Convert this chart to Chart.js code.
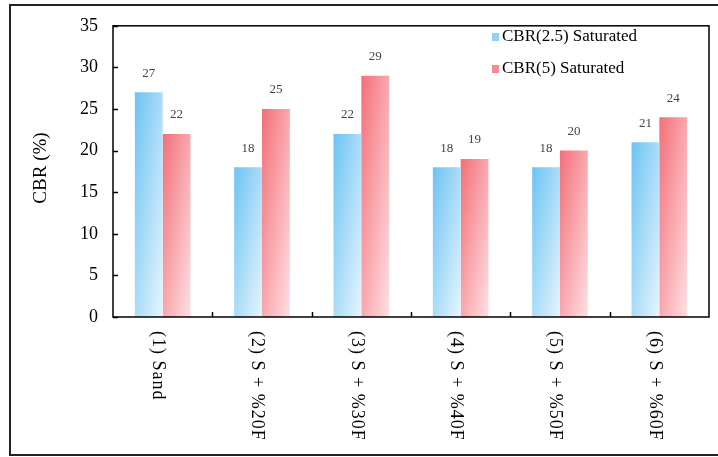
<!DOCTYPE html>
<html lang="en">
<head>
    <meta charset="UTF-8">
    <title>CBR Saturated</title>
    <script src="https://cdn.jsdelivr.net/npm/chart.js"></script>
    <style>
        body { margin: 0; background: #fff; }
        #myChart { display: block; }
    </style>
</head>
<body>
    <canvas id="myChart" width="718" height="457"></canvas>
    <script>
        // data
        const categories = ['(1) Sand', '(2) S + %20F', '(3) S + %30F', '(4) S + %40F', '(5) S + %50F', '(6) S + %60F'];
        const cbr25 = [27, 18, 22, 18, 18, 21];
        const cbr5 = [22, 25, 29, 19, 20, 24];
        const seriesNames = ['CBR(2.5) Saturated', 'CBR(5) Saturated'];
        const yTicks = [0, 5, 10, 15, 20, 25, 30, 35];

        const SERIF = '"Liberation Serif", "Times New Roman", serif';
        const CAT_PCT = 0.56;

        // Excel-like diagonal gradient: dark at top-left, light at bottom-right,
        // half-way at the other two corners
        function barFill(c, dark, light) {
            const chart = c.chart;
            const xs = chart.scales.x, ys = chart.scales.y;
            if (!xs || !ys || c.type !== 'data' || !chart.chartArea) return dark;
            const cx = xs.getPixelForValue(c.dataIndex);
            const w = (xs.width / categories.length) * CAT_PCT / 2;
            const left = c.datasetIndex === 0 ? cx - w : cx;
            const top = ys.getPixelForValue(c.raw);
            const h = Math.max(1, ys.getPixelForValue(0) - top);
            const k = 2 / (1 / (w * w) + 1 / (h * h));
            const g = chart.ctx.createLinearGradient(left, top, left + k / w, top + k / h);
            g.addColorStop(0, dark);
            g.addColorStop(1, light);
            return g;
        }

        const decor = {
            id: 'decor',
            beforeDraw(chart) {
                const ctx = chart.ctx;
                ctx.save();
                ctx.fillStyle = '#fff';
                ctx.fillRect(0, 0, chart.width, chart.height);
                ctx.restore();
            },
            afterDraw(chart) {
                const ctx = chart.ctx;
                const a = chart.chartArea;
                const xs = chart.scales.x, ys = chart.scales.y;
                ctx.save();

                // outer frame of the figure
                ctx.strokeStyle = '#222';
                ctx.lineWidth = 2;
                ctx.strokeRect(10, 5, 720, 450);

                // plot box
                ctx.lineWidth = 1.5;
                ctx.strokeStyle = '#000';
                ctx.strokeRect(a.left, a.top, a.right - a.left, a.bottom - a.top);

                // inner ticks on y
                ctx.beginPath();
                yTicks.forEach(v => {
                    const py = Math.round(ys.getPixelForValue(v)) + 0.5;
                    ctx.moveTo(a.left, py);
                    ctx.lineTo(a.left + 5, py);
                });
                // ticks between categories on x
                const step = (a.right - a.left) / categories.length;
                for (let i = 1; i < categories.length; i++) {
                    const px = Math.round(a.left + step * i) + 0.5;
                    ctx.moveTo(px, a.bottom);
                    ctx.lineTo(px, a.bottom - 5);
                }
                ctx.stroke();

                // category labels, reading top to bottom
                ctx.fillStyle = '#000';
                ctx.font = '18px ' + SERIF;
                ctx.letterSpacing = '1px';
                ctx.textAlign = 'left';
                ctx.textBaseline = 'middle';
                categories.forEach((c, i) => {
                    const px = xs.getPixelForValue(i) - 5;
                    ctx.save();
                    ctx.translate(px, a.bottom + 14);
                    ctx.rotate(Math.PI / 2);
                    ctx.fillText(c, 0, 0);
                    ctx.restore();
                });
                ctx.letterSpacing = '0px';

                // value labels above the bars
                ctx.font = '13px ' + SERIF;
                ctx.fillStyle = '#444';
                ctx.textAlign = 'center';
                chart.data.datasets.forEach((ds, di) => {
                    chart.getDatasetMeta(di).data.forEach((el, i) => {
                        ctx.fillText(String(ds.data[i]), el.x, el.y - 19);
                    });
                });

                // legend inside the plot
                const legendCols = ['#8fd2f5', '#f58a91'];
                ctx.font = '17px ' + SERIF;
                ctx.textAlign = 'left';
                seriesNames.forEach((n, i) => {
                    const ly = 37 + i * 32;
                    ctx.fillStyle = legendCols[i];
                    ctx.fillRect(492, ly - 4, 7, 8);
                    ctx.fillStyle = '#000';
                    ctx.fillText(n, 502, ly);
                });

                // y axis title
                ctx.font = '19px ' + SERIF;
                ctx.textAlign = 'center';
                ctx.save();
                ctx.translate(41, 168);
                ctx.rotate(-Math.PI / 2);
                ctx.fillText('CBR (%)', 0, 0);
                ctx.restore();

                ctx.restore();
            }
        };

        const ctx = document.getElementById('myChart').getContext('2d');
        const myChart = new Chart(ctx, {
            type: 'bar',
            data: {
                labels: categories,
                datasets: [{
                    label: seriesNames[0],
                    data: cbr25,
                    backgroundColor: c => barFill(c, '#6cc3f3', '#e6f5fd'),
                    borderWidth: 0
                }, {
                    label: seriesNames[1],
                    data: cbr5,
                    backgroundColor: c => barFill(c, '#f36f79', '#fde0e2'),
                    borderWidth: 0
                }]
            },
            options: {
                responsive: false,
                animation: false,
                categoryPercentage: CAT_PCT,
                barPercentage: 1,
                layout: { padding: { top: 15, right: 9, left: 0, bottom: 0 } },
                scales: {
                    x: {
                        grid: { display: false, drawTicks: false },
                        border: { display: false },
                        ticks: { display: false },
                        afterFit: s => { s.height = 140; }
                    },
                    y: {
                        min: 0,
                        max: 35,
                        grid: { display: false, drawTicks: false },
                        border: { display: false },
                        ticks: {
                            stepSize: 5,
                            padding: 15,
                            color: '#000',
                            font: { family: SERIF, size: 18 }
                        },
                        afterFit: s => { s.width = 113; }
                    }
                },
                plugins: {
                    legend: { display: false },
                    tooltip: { enabled: false }
                }
            },
            plugins: [decor]
        });
    </script>
</body>
</html>
